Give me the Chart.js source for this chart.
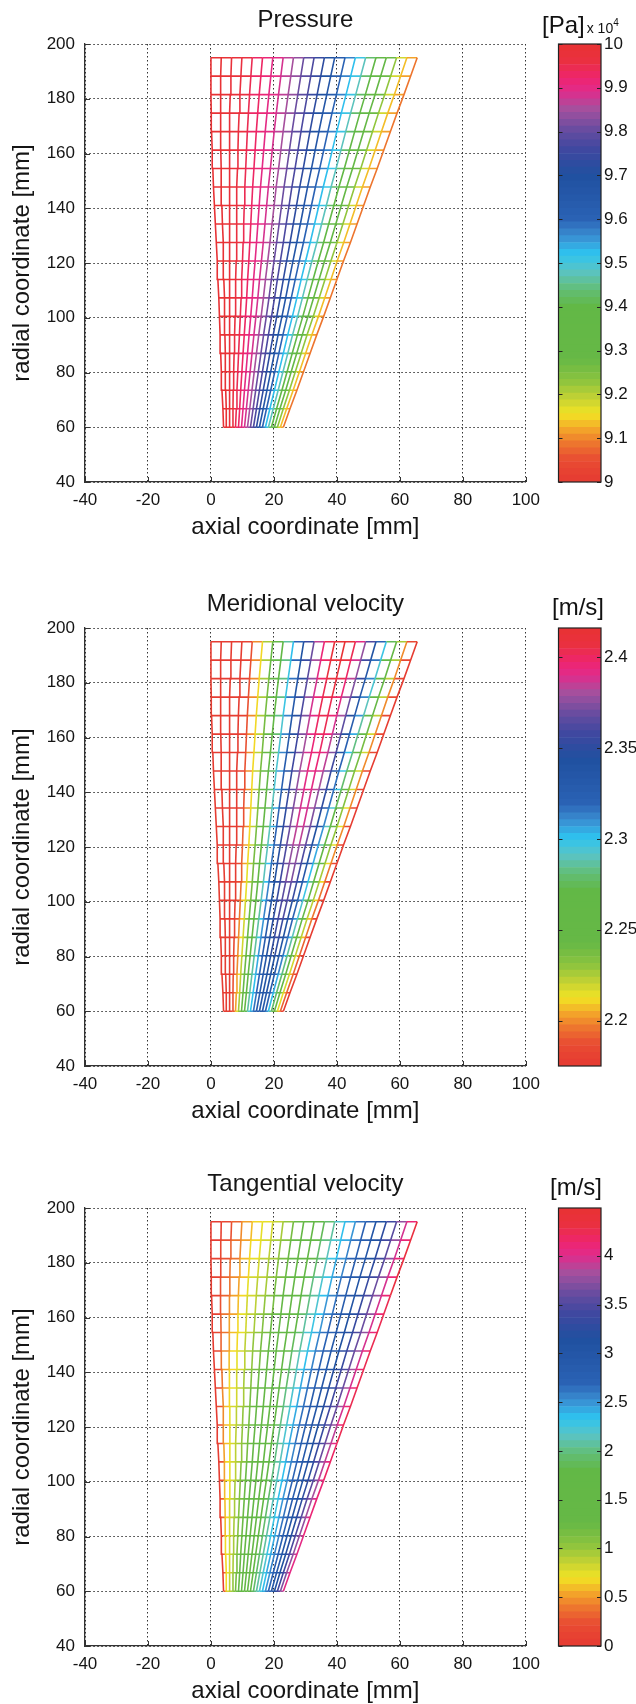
<!DOCTYPE html>
<html>
<head>
<meta charset="utf-8">
<script src="https://cdn.jsdelivr.net/npm/chart.js@4.4.1/dist/chart.umd.min.js"></script>
<style>
  html, body { margin: 0; padding: 0; background: #fff; }
  body { width: 636px; height: 1704px; position: relative; overflow: hidden;
         font-family: "Liberation Sans", Arial, Helvetica, sans-serif; }
  .panel { position: absolute; left: 0; width: 636px; height: 545px; }
  .panel canvas { position: absolute; top: 0; }
  .unit { position: absolute; top: 9px; font-size: 24px; line-height: 28px; color: #111; white-space: nowrap; }
  .unit .exp { font-size: 14px; margin-left: 2px; }
  .unit sup { font-size: 10px; vertical-align: 7px; }
</style>
</head>
<body>

<div class="panel" style="top:0px">
  <canvas id="plotPressure" width="548" height="545" style="left:0px"></canvas>
  <canvas id="barPressure" width="96" height="545" style="left:540px"></canvas>
  <div class="unit" style="left:542px">[Pa]<span class="exp">x 10<sup>4</sup></span></div>
</div>

<div class="panel" style="top:584px">
  <canvas id="plotMeridional" width="548" height="545" style="left:0px"></canvas>
  <canvas id="barMeridional" width="96" height="545" style="left:540px"></canvas>
  <div class="unit" style="left:552px">[m/s]</div>
</div>

<div class="panel" style="top:1164px">
  <canvas id="plotTangential" width="548" height="545" style="left:0px"></canvas>
  <canvas id="barTangential" width="96" height="545" style="left:540px"></canvas>
  <div class="unit" style="left:550px">[m/s]</div>
</div>

<script>
// --- mesh geometry (mm) ---
// radius of each streamline, hub to shroud
const stationR = [60, 66.75, 73.5, 80.25, 87, 93.75, 100.5, 107.25, 114, 120.75, 127.5,
                  134.25, 141, 147.75, 154.5, 161.25, 168, 174.75, 181.5, 188.25, 195];
// axial position of the leading edge on each streamline
const leadingX = [4.0, 3.8, 3.5, 3.3, 3.1, 2.9, 2.7, 2.5, 2.2, 2.0, 1.7,
                  1.4, 1.1, 0.8, 0.6, 0.4, 0.2, 0.1, 0, 0, 0];
// axial position of the trailing edge on each streamline
const trailingX = [23.0, 25.1, 27.3, 29.4, 31.5, 33.6, 35.8, 37.9, 40.0, 42.1, 44.3,
                   46.4, 48.5, 50.6, 52.8, 54.9, 57.0, 59.1, 61.3, 63.4, 65.5];
// where each quasi-orthogonal sits between leading (0) and trailing (1) edge
const lineSpan = [0, 0.05, 0.1, 0.15, 0.2, 0.25, 0.3, 0.35, 0.4, 0.45, 0.5,
                  0.55, 0.6, 0.65, 0.7, 0.75, 0.8, 0.85, 0.9, 0.95, 1];

// --- pressure [x 10^4 Pa], one value per quasi-orthogonal ---
const pressure = [10.00, 9.99, 9.98, 9.965, 9.945, 9.925, 9.905, 9.88, 9.85, 9.81, 9.77,
                  9.72, 9.66, 9.60, 9.53, 9.47, 9.40, 9.32, 9.22, 9.14, 9.08];
const pressureRange = [9, 10];
const pressureTicks = [9, 9.1, 9.2, 9.3, 9.4, 9.5, 9.6, 9.7, 9.8, 9.9, 10];

// --- meridional velocity [m/s] on hub, mid and shroud streamlines ---
const meridionalHub    = [2.15, 2.16, 2.17, 2.19, 2.205, 2.225, 2.245, 2.265, 2.285, 2.30, 2.315,
                          2.325, 2.33, 2.33, 2.32, 2.30, 2.275, 2.245, 2.215, 2.19, 2.17];
const meridionalMid    = [2.15, 2.15, 2.16, 2.17, 2.19, 2.21, 2.235, 2.26, 2.29, 2.32, 2.35,
                          2.37, 2.385, 2.385, 2.37, 2.345, 2.31, 2.27, 2.23, 2.20, 2.17];
const meridionalShroud = [2.15, 2.15, 2.16, 2.17, 2.19, 2.21, 2.24, 2.27, 2.30, 2.34, 2.37,
                          2.395, 2.41, 2.415, 2.405, 2.38, 2.34, 2.30, 2.25, 2.20, 2.17];
const meridionalRange = [2.175, 2.416];
const meridionalTicks = [2.2, 2.25, 2.3, 2.35, 2.4];

// --- tangential velocity [m/s] on hub, mid and shroud streamlines ---
const tangentialHub    = [0, 0.7, 0.85, 1.0, 1.15, 1.3, 1.4, 1.5, 1.6, 1.75, 1.9,
                          2.05, 2.2, 2.35, 2.5, 2.7, 2.9, 3.1, 3.4, 3.7, 4.0];
const tangentialMid    = [0, 0.45, 0.7, 0.85, 1.0, 1.15, 1.3, 1.45, 1.6, 1.75, 2.0,
                          2.2, 2.45, 2.65, 2.85, 3.0, 3.2, 3.4, 3.65, 3.95, 4.25];
const tangentialShroud = [0, 0.1, 0.25, 0.4, 0.6, 0.7, 0.8, 0.95, 1.15, 1.35, 1.6,
                          1.85, 2.05, 2.3, 2.5, 2.75, 2.95, 3.25, 3.55, 3.95, 4.3];
const tangentialRange = [0, 4.49];
const tangentialTicks = [0, 0.5, 1, 1.5, 2, 2.5, 3, 3.5, 4];

// rainbow colormap used by all three plots
const colormapStops = [
  [0.00, '#e63a32'], [0.05, '#e84c32'], [0.09, '#ee7a2e'], [0.12, '#f4a62a'],
  [0.155, '#f2e424'], [0.19, '#c4d234'], [0.23, '#8cc43e'], [0.28, '#66b846'],
  [0.40, '#62b846'], [0.44, '#62be78'], [0.48, '#5ac4c4'], [0.52, '#2ec4f0'],
  [0.56, '#3a8ed2'], [0.60, '#2a62b4'], [0.70, '#2050a0'], [0.76, '#4048a0'],
  [0.80, '#644ca0'], [0.85, '#a4509e'], [0.89, '#e02c8c'], [0.92, '#ee2470'],
  [0.96, '#ea3040'], [1.00, '#e83232']
];

const FONT = '"Liberation Sans", Arial, Helvetica, sans-serif';
const INK = '#151515';
const NCOLORS = 64;

function hexRgb(h) {
  return [parseInt(h.slice(1, 3), 16), parseInt(h.slice(3, 5), 16), parseInt(h.slice(5, 7), 16)];
}

// 64-entry table, like a matlab colormap
const colormap = [];
for (let k = 0; k < NCOLORS; k++) {
  const t = (k + 0.5) / NCOLORS;
  let s = 0;
  while (s < colormapStops.length - 2 && colormapStops[s + 1][0] < t) s++;
  const [t0, c0] = colormapStops[s], [t1, c1] = colormapStops[s + 1];
  const f = Math.min(1, Math.max(0, (t - t0) / (t1 - t0)));
  const a = hexRgb(c0), b = hexRgb(c1);
  colormap.push('rgb(' + a.map((v, n) => Math.round(v + (b[n] - v) * f)).join(',') + ')');
}

function colorFor(v, range) {
  const k = Math.floor((v - range[0]) / (range[1] - range[0]) * NCOLORS);
  return colormap[Math.min(NCOLORS - 1, Math.max(0, k))];
}

function nodeX(i, j) {
  return leadingX[j] + lineSpan[i] * (trailingX[j] - leadingX[j]);
}

// shade between the hub, mid and shroud samples
function sampled(hub, mid, shroud) {
  return (i, j) => j <= 10
    ? hub[i] + (mid[i] - hub[i]) * j / 10
    : mid[i] + (shroud[i] - mid[i]) * (j - 10) / 10;
}

function lineSet(pts, range) {
  return {
    data: pts,
    showLine: true,
    pointRadius: 0,
    borderWidth: 1.6,
    tension: 0,
    borderColor: colorFor(pts[0].v, range),
    segment: {
      borderColor: ctx => colorFor((pts[ctx.p0DataIndex].v + pts[ctx.p1DataIndex].v) / 2, range)
    }
  };
}

function meshDatasets(valueAt, range) {
  const sets = [];
  // quasi-orthogonals, hub to shroud
  for (let i = 0; i < lineSpan.length; i++) {
    sets.push(lineSet(stationR.map((r, j) => ({ x: nodeX(i, j), y: r, v: valueAt(i, j) })), range));
  }
  // streamlines, leading to trailing edge
  for (let j = 0; j < stationR.length; j++) {
    sets.push(lineSet(lineSpan.map((_, i) => ({ x: nodeX(i, j), y: stationR[j], v: valueAt(i, j) })), range));
  }
  return sets;
}

// short inward tick marks on the left and bottom axes
const inwardTicks = {
  id: 'inwardTicks',
  afterDatasetsDraw(chart) {
    const { ctx, chartArea: a, scales: { x, y } } = chart;
    ctx.save();
    ctx.strokeStyle = '#333';
    ctx.lineWidth = 1;
    ctx.beginPath();
    x.ticks.forEach(t => {
      const px = Math.round(x.getPixelForValue(t.value)) + 0.5;
      ctx.moveTo(px, a.bottom);
      ctx.lineTo(px, a.bottom - 5);
    });
    y.ticks.forEach(t => {
      const py = Math.round(y.getPixelForValue(t.value)) + 0.5;
      ctx.moveTo(a.left, py);
      ctx.lineTo(a.left + 5, py);
    });
    ctx.stroke();
    ctx.restore();
  }
};

// black frame and inner ticks around the colour bar
const colorbarFrame = {
  id: 'colorbarFrame',
  afterDatasetsDraw(chart) {
    const { ctx, chartArea: a, scales: { y } } = chart;
    ctx.save();
    ctx.strokeStyle = '#222';
    ctx.lineWidth = 1.2;
    ctx.strokeRect(a.left, a.top, a.right - a.left, a.bottom - a.top);
    ctx.lineWidth = 1;
    ctx.beginPath();
    y.ticks.forEach(t => {
      const py = Math.round(y.getPixelForValue(t.value)) + 0.5;
      ctx.moveTo(a.left, py); ctx.lineTo(a.left + 4, py);
      ctx.moveTo(a.right, py); ctx.lineTo(a.right - 4, py);
    });
    ctx.stroke();
    ctx.restore();
  }
};

const tickFont = { family: FONT, size: 17 };
const labelFont = { family: FONT, size: 24, weight: 'normal', lineHeight: 1.2 };
const gridOpts = { color: '#333', lineWidth: 1, drawTicks: false };
const borderOpts = { display: true, color: '#333', width: 1.3, dash: [1.5, 2.5] };

function makePlot(id, title, datasets) {
  return new Chart(document.getElementById(id), {
    type: 'scatter',
    data: { datasets },
    options: {
      responsive: false,
      animation: false,
      events: [],
      layout: { padding: { left: 0, right: 16, top: 0, bottom: 3 } },
      plugins: {
        legend: { display: false },
        tooltip: { enabled: false },
        title: {
          display: true, text: title, fullSize: false, color: INK,
          font: labelFont, padding: { top: 6, bottom: 9.2 }
        }
      },
      scales: {
        x: {
          type: 'linear', min: -40, max: 100,
          afterFit: s => { s.height = 60; },
          ticks: { stepSize: 20, padding: 8, color: INK, font: tickFont, callback: v => String(v) },
          grid: gridOpts,
          border: borderOpts,
          title: { display: true, text: 'axial coordinate [mm]', color: INK, font: labelFont, padding: { top: 0, bottom: 0 } }
        },
        y: {
          type: 'linear', min: 40, max: 200,
          afterFit: s => { s.width = 85; },
          ticks: { stepSize: 20, padding: 10, color: INK, font: tickFont, callback: v => String(v) },
          grid: gridOpts,
          border: borderOpts,
          title: { display: true, text: 'radial coordinate [mm]', color: INK, font: labelFont, padding: { top: 7.6, bottom: 0 } }
        }
      }
    },
    plugins: [inwardTicks]
  });
}

function makeColorbar(id, range, ticks) {
  const span = range[1] - range[0];
  const bands = colormap.map((c, k) => ({
    data: [[range[0] + span * k / NCOLORS, range[0] + span * (k + 1) / NCOLORS]],
    backgroundColor: c,
    borderWidth: 0,
    grouped: false,
    barPercentage: 1,
    categoryPercentage: 1
  }));
  return new Chart(document.getElementById(id), {
    type: 'bar',
    data: { labels: [''], datasets: bands },
    options: {
      responsive: false,
      animation: false,
      events: [],
      layout: { padding: { left: 18.5, right: 0, top: 44, bottom: 63 } },
      plugins: { legend: { display: false }, tooltip: { enabled: false } },
      scales: {
        x: { display: false },
        y: {
          position: 'right', min: range[0], max: range[1],
          afterFit: s => { s.width = 35; },
          afterBuildTicks: s => { s.ticks = ticks.map(v => ({ value: v })); },
          grid: { display: false, drawTicks: false },
          border: { display: false },
          ticks: { padding: 3, color: INK, font: tickFont, callback: v => String(v) }
        }
      }
    },
    plugins: [colorbarFrame]
  });
}

makePlot('plotPressure', 'Pressure', meshDatasets((i, j) => pressure[i], pressureRange));
makeColorbar('barPressure', pressureRange, pressureTicks);

makePlot('plotMeridional', 'Meridional velocity',
  meshDatasets(sampled(meridionalHub, meridionalMid, meridionalShroud), meridionalRange));
makeColorbar('barMeridional', meridionalRange, meridionalTicks);

makePlot('plotTangential', 'Tangential velocity',
  meshDatasets(sampled(tangentialHub, tangentialMid, tangentialShroud), tangentialRange));
makeColorbar('barTangential', tangentialRange, tangentialTicks);
</script>
</body>
</html>
